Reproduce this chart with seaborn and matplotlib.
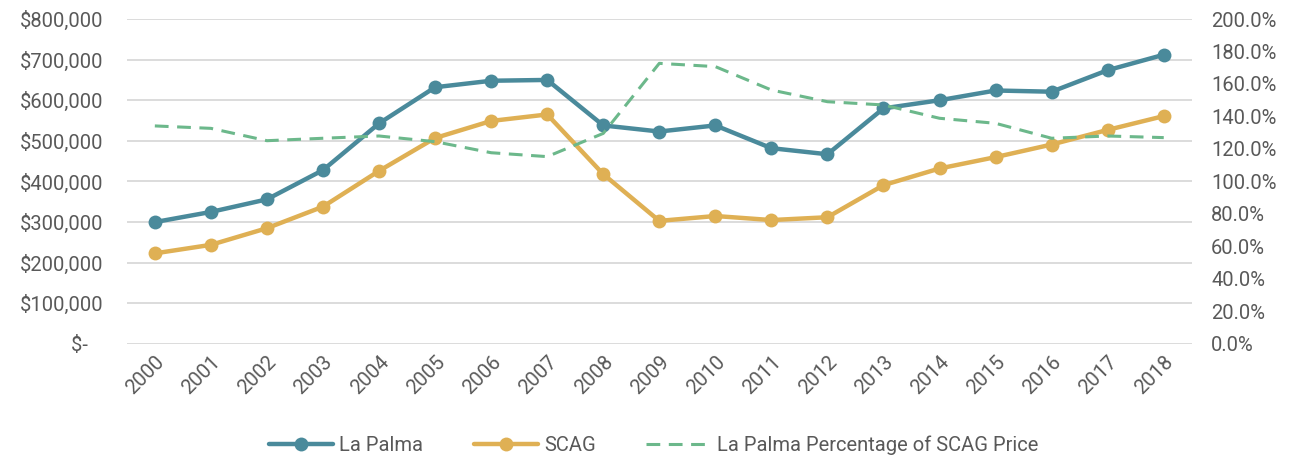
import matplotlib
matplotlib.use("Agg")
import matplotlib.pyplot as plt
import seaborn as sns
import pandas as pd
from matplotlib.ticker import FuncFormatter, MultipleLocator

years = [str(y) for y in range(2000, 2019)]
la_palma = [300000, 325000, 356000, 428000, 543000, 632000, 648000, 650000, 538000, 523000,
            538000, 482000, 467000, 580000, 600000, 624000, 621000, 674000, 712000]
scag = [223000, 244000, 285000, 338000, 426000, 507000, 549000, 565000, 418000, 303000,
        315000, 305000, 312000, 391000, 432000, 460000, 491000, 527000, 561000]
pct = [134.2, 132.7, 125.1, 126.6, 128.0, 124.5, 117.7, 115.3, 129.6, 172.7,
       170.7, 156.3, 149.1, 147.1, 138.9, 135.8, 126.6, 128.0, 127.0]

sns.set_theme(style="white")
plt.rcParams['font.family'] = ['Roboto', 'DejaVu Sans']

TEAL = "#4a8a9b"
GOLD = "#dfb054"
GREEN = "#6cb88b"
TXT = "#595959"

df = pd.DataFrame({"year": years, "La Palma": la_palma, "SCAG": scag, "pct": pct})

fig, ax = plt.subplots(figsize=(12.94, 4.58), dpi=100)
fig.subplots_adjust(left=0.098, right=0.921, top=0.9585, bottom=0.249)
ax2 = ax.twinx()

sns.lineplot(data=df, x="year", y="La Palma", ax=ax, color=TEAL, linewidth=3.2,
             marker="o", markersize=10, markeredgewidth=0, label="La Palma", legend=False, sort=False)
sns.lineplot(data=df, x="year", y="SCAG", ax=ax, color=GOLD, linewidth=3.2,
             marker="o", markersize=10, markeredgewidth=0, label="SCAG", legend=False, sort=False)
sns.lineplot(data=df, x="year", y="pct", ax=ax2, color=GREEN, linewidth=2.2,
             dashes=False, label="La Palma Percentage of SCAG Price", legend=False, sort=False)
ax2.lines[0].set_dashes([4.5, 2.8])

ax.set_xlim(-0.5, len(years) - 0.5)
ax.set_ylim(0, 800000)
ax2.set_ylim(0, 200)
ax.yaxis.set_major_locator(MultipleLocator(100000))
ax2.yaxis.set_major_locator(MultipleLocator(20))
ax.yaxis.set_major_formatter(FuncFormatter(lambda v, p: "$-   " if v == 0 else f"${v:,.0f}"))
ax2.yaxis.set_major_formatter(FuncFormatter(lambda v, p: f"{v:.1f}%"))

ax.grid(axis="y", color="#d9d9d9", linewidth=1.3)
ax.set_axisbelow(True)
for a in (ax, ax2):
    for s in a.spines.values():
        s.set_visible(False)
    a.set_xlabel("")
    a.set_ylabel("")
    a.tick_params(length=0, colors=TXT, labelsize=14.5)
ax.tick_params(axis="y", pad=17)
ax2.tick_params(axis="y", pad=14)
ax.tick_params(axis="x", pad=6)
plt.setp(ax.get_xticklabels(), rotation=45, ha="right", rotation_mode="anchor")

h1, l1 = ax.get_legend_handles_labels()
h2, l2 = ax2.get_legend_handles_labels()
leg = fig.legend(h1 + h2, l1 + l2, loc="center", bbox_to_anchor=(0.505, 0.028), ncol=3,
                 frameon=False, fontsize=14.5, handlelength=3.2, columnspacing=2.5, handletextpad=0.3)
for t in leg.get_texts():
    t.set_color(TXT)

fig.savefig("out.png", dpi=100)
